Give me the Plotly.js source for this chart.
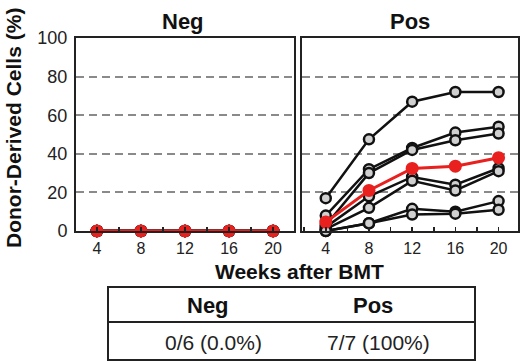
<!DOCTYPE html>
<html>
<head>
<meta charset="utf-8">
<script src="https://cdn.plot.ly/plotly-3.0.1.min.js"></script>
<style>html,body{margin:0;padding:0;background:#fff;}#chart{width:520px;height:361px;}</style>
</head>
<body>
<div id="chart"></div>
<script>
// ---- data ----
var weeks = [4, 8, 12, 16, 20];
var weekTicks = [4, 8, 12, 16, 20];
var yTicks = [0, 20, 40, 60, 80, 100];

var negMouse1 = [0, 0, 0, 0, 0];
var negMouse2 = [0, 0, 0, 0, 0];
var negMouse3 = [0, 0, 0, 0, 0];
var negMouse4 = [0, 0, 0, 0, 0];
var negMouse5 = [0, 0, 0, 0, 0];
var negMouse6 = [0, 0, 0, 0, 0];
var negMean   = [0, 0, 0, 0, 0];

var posMouse1 = [17, 47.5, 67, 72, 72];
var posMouse2 = [8, 32, 43, 51, 54];
var posMouse3 = [3, 30, 42, 47, 50.5];
var posMouse4 = [2, 18, 28, 24, 32.5];
var posMouse5 = [1, 12, 26, 21, 31];
var posMouse6 = [0, 4, 11.5, 10, 15.5];
var posMouse7 = [0, 4, 8.5, 9, 11];
var posMean   = [4.6, 21, 32.4, 33.6, 38];

var panelTitles = ["Neg", "Pos"];
var yTitle = "Donor-Derived Cells (%)";
var xTitle = "Weeks after BMT";
var tableHeader = ["Neg", "Pos"];
var tableRow = ["0/6 (0.0%)", "7/7 (100%)"];

// ---- styling ----
var W = 520, H = 361;
var FONT = "Liberation Sans, Arial, sans-serif";
function px(x){return x / W;}
function py(y){return 1 - y / H;}

function blackTrace(y, xa, ya){
  return {x: weeks, y: y, xaxis: xa, yaxis: ya, type: 'scatter', mode: 'lines+markers',
    line: {color: '#111', width: 2.5},
    marker: {symbol: 'circle', size: 10, color: '#d0d0d0', line: {color: '#111', width: 2.5}},
    showlegend: false, hoverinfo: 'skip', cliponaxis: false};
}
function redTrace(y, xa, ya){
  return {x: weeks, y: y, xaxis: xa, yaxis: ya, type: 'scatter', mode: 'lines+markers',
    line: {color: '#e8201e', width: 3},
    marker: {symbol: 'circle', size: 13, color: '#e8201e', line: {color: '#e8201e', width: 0}},
    showlegend: false, hoverinfo: 'skip', cliponaxis: false};
}

var traces = [];
[negMouse1, negMouse2, negMouse3, negMouse4, negMouse5, negMouse6].forEach(function(s){ traces.push(blackTrace(s, 'x', 'y')); });
traces.push(redTrace(negMean, 'x', 'y'));
[posMouse1, posMouse2, posMouse3, posMouse4, posMouse5, posMouse6, posMouse7].forEach(function(s){ traces.push(blackTrace(s, 'x2', 'y2')); });
traces.push(redTrace(posMean, 'x2', 'y2'));

function xAxis(domain, range, anchor){
  return {domain: domain, range: range, anchor: anchor,
    tickmode: 'linear', tick0: weekTicks[0], dtick: weekTicks[1] - weekTicks[0],
    ticks: 'inside', ticklen: 4, tickcolor: '#222', tickwidth: 1.5,
    minor: {tickmode: 'linear', tick0: 0, dtick: 2, ticks: 'inside', ticklen: 4, tickcolor: '#222', tickwidth: 1.5, showgrid: false},
    showline: true, mirror: true, linecolor: '#222', linewidth: 2,
    showgrid: false, zeroline: false, ticklabelstandoff: 2,
    tickfont: {family: FONT, size: 16, color: '#222'}};
}
function yAxis(domain, anchor, showLabels){
  return {domain: domain, range: [0, 100], anchor: anchor,
    tickmode: 'array', tickvals: yTicks, ticktext: yTicks.map(String),
    showticklabels: showLabels, ticks: '',
    showline: true, mirror: true, linecolor: '#222', linewidth: 2,
    showgrid: true, gridcolor: '#8a8a8a', gridwidth: 2, griddash: '8px,5px',
    zeroline: false, ticklabelstandoff: 3,
    tickfont: {family: FONT, size: 18, color: '#222'}};
}

var yDom = [py(231), py(38)];
var layout = {
  width: W, height: H,
  margin: {l: 0, r: 0, t: 0, b: 0},
  paper_bgcolor: '#fff', plot_bgcolor: '#fff',
  showlegend: false,
  xaxis: xAxis([px(76), px(294)], [2.1, 21.9], 'y'),
  yaxis: yAxis(yDom, 'x', true),
  xaxis2: xAxis([px(302), px(518)], [1.8, 21.8], 'y2'),
  yaxis2: yAxis(yDom, 'x2', false),
  shapes: [
    {type: 'rect', xref: 'paper', yref: 'paper', x0: px(108), x1: px(475), y0: py(360), y1: py(287),
      line: {color: '#222', width: 2}},
    {type: 'line', xref: 'paper', yref: 'paper', x0: px(108), x1: px(475), y0: py(322), y1: py(322),
      line: {color: '#222', width: 2}}
  ],
  annotations: [
    {text: panelTitles[0], xref: 'paper', yref: 'paper', x: px(183), y: py(22), showarrow: false,
      xanchor: 'center', yanchor: 'middle', font: {family: FONT, size: 22, color: '#111', weight: 'bold'}},
    {text: panelTitles[1], xref: 'paper', yref: 'paper', x: px(410), y: py(22), showarrow: false,
      xanchor: 'center', yanchor: 'middle', font: {family: FONT, size: 22, color: '#111', weight: 'bold'}},
    {text: yTitle, xref: 'paper', yref: 'paper', x: px(14), y: py(128), textangle: -90, showarrow: false,
      xanchor: 'center', yanchor: 'middle', font: {family: FONT, size: 21, color: '#111', weight: 'bold'}},
    {text: xTitle, xref: 'paper', yref: 'paper', x: px(299), y: py(271), showarrow: false,
      xanchor: 'center', yanchor: 'middle', font: {family: FONT, size: 21, color: '#111', weight: 'bold'}},
    {text: tableHeader[0], xref: 'paper', yref: 'paper', x: px(208), y: py(305), showarrow: false,
      xanchor: 'center', yanchor: 'middle', font: {family: FONT, size: 22, color: '#111', weight: 'bold'}},
    {text: tableHeader[1], xref: 'paper', yref: 'paper', x: px(373), y: py(305), showarrow: false,
      xanchor: 'center', yanchor: 'middle', font: {family: FONT, size: 22, color: '#111', weight: 'bold'}},
    {text: tableRow[0], xref: 'paper', yref: 'paper', x: px(213), y: py(342), showarrow: false,
      xanchor: 'center', yanchor: 'middle', font: {family: FONT, size: 21, color: '#222'}},
    {text: tableRow[1], xref: 'paper', yref: 'paper', x: px(378), y: py(342), showarrow: false,
      xanchor: 'center', yanchor: 'middle', font: {family: FONT, size: 21, color: '#222'}}
  ]
};

Plotly.newPlot('chart', traces, layout, {staticPlot: true, displayModeBar: false});
</script>
</body>
</html>
